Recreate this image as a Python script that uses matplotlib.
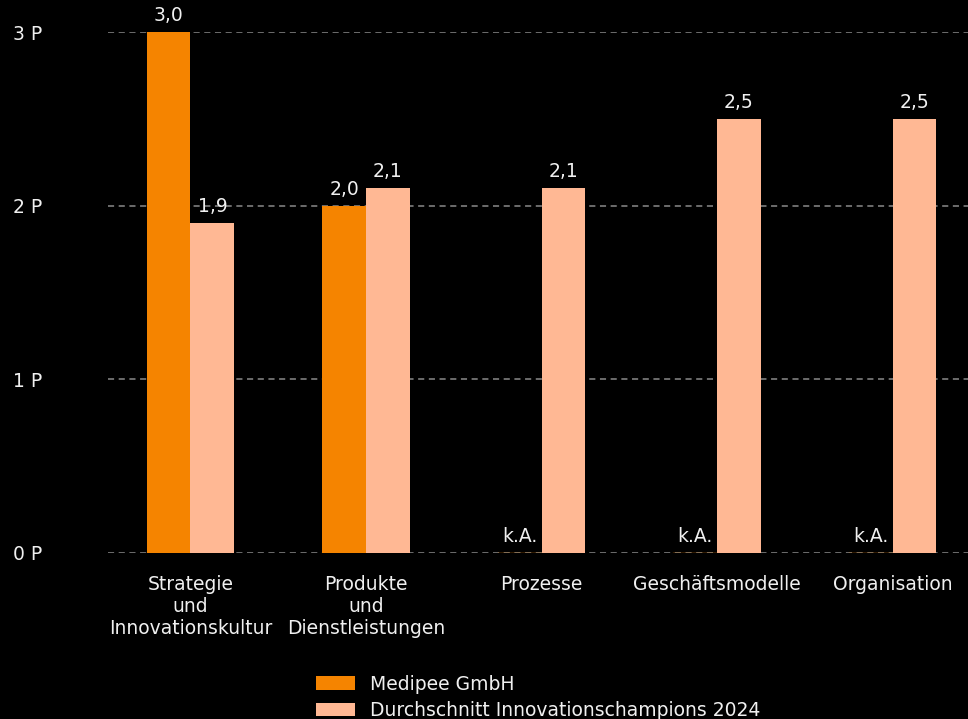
import numpy as np
import matplotlib
matplotlib.use('Agg')
import matplotlib.pyplot as plt

plt.rcParams['font.family'] = ['DejaVu Sans']

# Daten
categories = ['Strategie\nund\nInnovationskultur', 'Produkte\nund\nDienstleistungen',
              'Prozesse', 'Geschäftsmodelle', 'Organisation']
medipee = [3.0, 2.0, np.nan, np.nan, np.nan]
durchschnitt = [1.9, 2.1, 2.1, 2.5, 2.5]
series_names = ['Medipee GmbH', 'Durchschnitt Innovationschampions 2024']
y_ticks = [0, 1, 2, 3]
y_ticklabels = ['0 P', '1 P', '2 P', '3 P']

ORANGE = '#F58400'
PEACH = '#FFB894'
TEXT = '#F0F0F0'
FS = 13.5


def fmt(v):
    return 'k.A.' if np.isnan(v) else f'{v:.1f}'.replace('.', ',')


fig = plt.figure(figsize=(9.68, 7.19), dpi=100)
fig.patch.set_facecolor('black')
ax = fig.add_axes([108 / 968, 1 - 553 / 719, 1 - 108 / 968, (553 - 32) / 719])
ax.set_facecolor('black')

x = np.arange(len(categories))
w = 0.25
m_vals = np.nan_to_num(np.array(medipee))
b1 = ax.bar(x - w / 2, m_vals, w, color=ORANGE, label=series_names[0], zorder=3)
b2 = ax.bar(x + w / 2, durchschnitt, w, color=PEACH, label=series_names[1], zorder=3)
# k.A.-Balken als dünne Linie
for xi, v in zip(x, medipee):
    if np.isnan(v):
        ax.plot([xi - w, xi], [0, 0], color=ORANGE, lw=1, zorder=2)

for bars, vals in ((b1, medipee), (b2, durchschnitt)):
    for rect, v in zip(bars, vals):
        ax.annotate(fmt(v), (rect.get_x() + rect.get_width() / 2, rect.get_height()),
                    xytext=(0, 5), textcoords='offset points',
                    ha='center', va='bottom', color=TEXT, fontsize=FS, zorder=4)

ax.set_xlim(-0.47, 4.43)
ax.set_ylim(0, 3)
ax.set_yticks(y_ticks)
ax.set_yticklabels(y_ticklabels, color=TEXT, fontsize=FS)
ax.tick_params(axis='y', length=0, pad=47)
ax.set_xticks(x)
ax.set_xticklabels(categories, color=TEXT, fontsize=FS, linespacing=1.2)
ax.tick_params(axis='x', length=0, pad=16)
ax.yaxis.grid(True, color='#8A8A8A', linestyle=(0, (4, 3)), lw=1.1, zorder=1)
for s in ax.spines.values():
    s.set_visible(False)

leg = fig.legend(loc='upper left', bbox_to_anchor=(308 / 968, 1 - 667 / 719),
                 frameon=False, fontsize=FS, handlelength=2.1, handleheight=0.7,
                 labelspacing=0.4, handletextpad=0.8, borderaxespad=0)
for t in leg.get_texts():
    t.set_color(TEXT)

fig.savefig('out.png', dpi=100, facecolor='black')
